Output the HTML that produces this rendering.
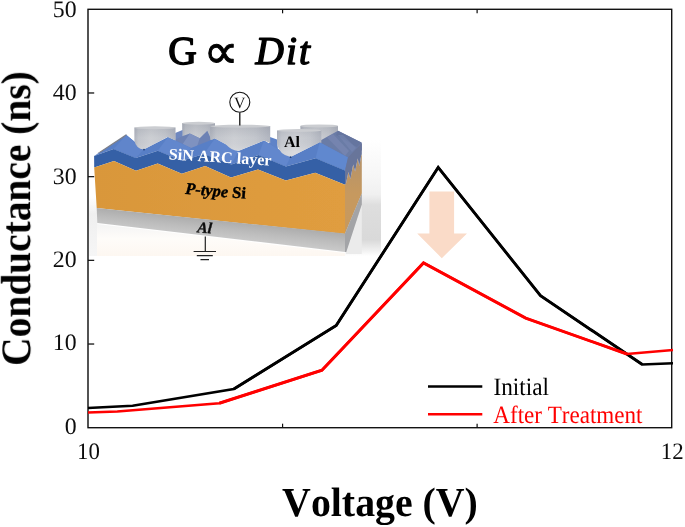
<!DOCTYPE html>
<html lang="en"><head><meta charset="utf-8"><title>Conductance vs Voltage</title>
<style>
html,body{margin:0;padding:0;background:#fff;}
body{width:685px;height:527px;overflow:hidden;}
svg{display:block;}
text{font-kerning:none;text-rendering:geometricPrecision;}
</style></head><body>
<svg width="685" height="527" viewBox="0 0 685 527" role="img" aria-label="Conductance versus voltage chart">
<defs>
<linearGradient id="gcyl" x1="0" x2="1" y1="0" y2="0">
 <stop offset="0" stop-color="#b4b8c2"/><stop offset="0.1" stop-color="#c8cbd1"/><stop offset="0.4" stop-color="#d3d5d9"/><stop offset="0.75" stop-color="#c9ccd2"/><stop offset="1" stop-color="#b6bac4"/>
</linearGradient>
<linearGradient id="gal" gradientUnits="userSpaceOnUse" x1="200" y1="218.7" x2="198.2" y2="236">
 <stop offset="0" stop-color="#adadad"/><stop offset="0.5" stop-color="#bcbcbc"/><stop offset="1" stop-color="#c9c9c9"/>
</linearGradient>
<linearGradient id="gor" x1="0" x2="1" y1="0" y2="0">
 <stop offset="0" stop-color="#d9973a"/><stop offset="1" stop-color="#e09d3f"/>
</linearGradient>
<linearGradient id="gsh" x1="0" x2="0" y1="0" y2="1">
 <stop offset="0" stop-color="#ffffff"/><stop offset="0.1" stop-color="#fcfcfc"/><stop offset="0.32" stop-color="#f6f6f6"/><stop offset="0.47" stop-color="#f0f0f0"/><stop offset="0.56" stop-color="#dedede"/><stop offset="0.86" stop-color="#d9d9d9"/><stop offset="0.95" stop-color="#f0f0f0"/><stop offset="1" stop-color="#ffffff"/>
</linearGradient>
<linearGradient id="gshx" x1="0" x2="1" y1="0" y2="0">
 <stop offset="0" stop-color="#fff" stop-opacity="0"/><stop offset="1" stop-color="#fff" stop-opacity="1"/>
</linearGradient>
<linearGradient id="grefl" x1="0" x2="0" y1="0" y2="1">
 <stop offset="0" stop-color="#f4f4f4"/><stop offset="0.45" stop-color="#fefcf9"/><stop offset="1" stop-color="#fdf7f1"/>
</linearGradient>
<linearGradient id="gstrip" x1="0" x2="0" y1="0" y2="1">
 <stop offset="0" stop-color="#f1f1f1" stop-opacity="0"/><stop offset="0.3" stop-color="#efefef"/><stop offset="1" stop-color="#f6f6f6"/>
</linearGradient>
<linearGradient id="gside" x1="0" x2="0" y1="0" y2="1">
 <stop offset="0" stop-color="#b3926b"/><stop offset="0.5" stop-color="#c6995f"/><stop offset="1" stop-color="#c8995c"/>
</linearGradient>
<linearGradient id="gcylv" gradientUnits="userSpaceOnUse" x1="0" x2="0" y1="124" y2="152">
 <stop offset="0" stop-color="#5a6070" stop-opacity="0.22"/><stop offset="0.5" stop-color="#5a6070" stop-opacity="0.05"/><stop offset="1" stop-color="#ffffff" stop-opacity="0.15"/>
</linearGradient>
<filter id="soft3" x="-5%" y="-5%" width="110%" height="110%"><feGaussianBlur stdDeviation="0.3"/></filter>
<filter id="soft" x="-5%" y="-5%" width="110%" height="110%"><feGaussianBlur stdDeviation="0.45"/></filter>
<filter id="soft2" x="-20%" y="-20%" width="140%" height="140%"><feGaussianBlur stdDeviation="1.5"/></filter>
</defs>
<rect width="685" height="527" fill="#fff"/>
<g id="inset" filter="url(#soft)">
<rect x="345" y="140" width="36" height="116" fill="url(#gsh)"/>
<polygon points="346,252 361.8,204 361.8,254 346,254" fill="#ebebeb"/>
<rect x="89" y="196" width="8.5" height="60" fill="url(#gstrip)"/>
<polygon points="97,224 345,253 345,256 97,256" fill="url(#grefl)"/>
<path d="M182.2,123 V142 H215 V123 Z" fill="url(#gcyl)"/><path d="M182.2,123 V142 H215 V123 Z" fill="url(#gcylv)"/><ellipse cx="198.6" cy="123.3" rx="16.4" ry="1.5" fill="#cbcdd1"/>
<path d="M300.4,126 V146 H338 V126 Z" fill="url(#gcyl)"/><path d="M300.4,126 V146 H338 V126 Z" fill="url(#gcylv)"/><ellipse cx="319.2" cy="125.9" rx="18.8" ry="1.5" fill="#cbcdd1"/>
<polygon points="175.2,133 182.5,130 182.5,142 175.2,142" fill="#6e87bf"/>
<polygon points="175.5,139.5 182.2,136.3 189.8,133.4 199.7,138.2 207.3,130.8 211,139 215,150 175,150" fill="#6d82b4"/>
<polygon points="189.8,133.4 199.7,138.2 196,150 182,145" fill="#7f92c0"/>
<polygon points="270,137 277,139.5 278,150 268,150" fill="#5f83c8"/>
<polygon points="321.3,140 338,130.8 361.8,142.8 361.8,150 349,166 345,170.5 319.7,142.3" fill="#6b7ba6"/>
<polygon points="338,130.8 361.5,142.6 357,147 336,135" fill="#65759f"/>
<polygon points="327,137.5 333,134 349,151 345,156" fill="#7d8eb8" opacity="0.5"/>
<polygon points="338,135 343,135 356,148 352,152" fill="#7d8eb8" opacity="0.4"/>
<polygon points="94.1,156 126.4,135.1 143.7,149.2 168,136.9 191,148 214.9,138.5 238.2,151 264,140.5 290.6,156.8 319.7,142.3 348,157.5 345,170.6 315.6,158.2 285.8,166.4 258.5,155 231.4,164.4 204,154 181.7,160.7 157.8,150.8 135.7,158 113.6,148.9" fill="#597fc6"/>
<polygon points="97,153.4 126.4,134.1 126.6,135.6 101,152.2" fill="#7b7e88"/>
<polygon points="126.4,135.1 143.7,149.2 135.7,158 113.6,148.9" fill="#6085cb"/>
<polygon points="168,136.9 191,148 181.7,160.7 157.8,150.8" fill="#6287cd"/>
<polygon points="214.9,138.5 238.2,151 231.4,164.4 204,154" fill="#6287cd"/>
<polygon points="264,140.5 290.6,156.8 285.8,166.4 258.5,155" fill="#6287cd"/>
<polygon points="319.7,142.3 348,157.5 345,170.6 315.6,158.2" fill="#6088cf"/>
<path d="M134.4,127.5 V140.5 Q136,148.8 143.9,149.5 L167.6,136.9 L175.5,140.5 V127.5 Z" fill="url(#gcyl)"/><path d="M134.4,127.5 V140.5 Q136,148.8 143.9,149.5 L167.6,136.9 L175.5,140.5 V127.5 Z" fill="url(#gcylv)"/><ellipse cx="154.9" cy="127.7" rx="20.5" ry="1.5" fill="#cbcdd1"/>
<path d="M210.2,126 V140 L214.9,138.5 L226,144.5 Q231,150 238.2,151 L264,140.5 L270.2,143 V126 Z" fill="url(#gcyl)"/><path d="M210.2,126 V140 L214.9,138.5 L226,144.5 Q231,150 238.2,151 L264,140.5 L270.2,143 V126 Z" fill="url(#gcylv)"/><ellipse cx="240.2" cy="126.2" rx="30.0" ry="1.5" fill="#cbcdd1"/>
<path d="M277,130.5 V144 Q279.5,155 290.6,156.9 L319.7,142.3 L321.3,143 V130.5 Z" fill="url(#gcyl)"/><path d="M277,130.5 V144 Q279.5,155 290.6,156.9 L319.7,142.3 L321.3,143 V130.5 Z" fill="url(#gcylv)"/><ellipse cx="299.1" cy="130.5" rx="22.2" ry="1.5" fill="#cbcdd1"/>
<circle cx="144" cy="149.6" r="0.9" fill="#1f3f7a"/><circle cx="290.6" cy="157.2" r="0.9" fill="#1f3f7a"/>
<polygon points="94.1,156 113.6,148.9 135.7,158 157.8,150.8 181.7,160.7 204,154 231.4,164.4 258.5,155 285.8,166.4 315.6,158.2 345,170.6 345,184.8 315.2,172.8 285.8,180.6 258,169.5 231,177.4 205.2,166 181.8,173.7 157.7,163.6 136,170.7 114,161 94.2,167.4" fill="#3560a6"/>
<polygon points="94.2,167.4 114,161 136,170.7 157.7,163.6 181.8,173.7 205.2,166 231,177.4 258,169.5 285.8,180.6 315.2,172.8 345,184.8 345,234 96.7,208" fill="url(#gor)"/>
<polygon points="96.7,208 345,233.6 345,252 97.3,223" fill="url(#gal)"/>
<polygon points="345,184.5 346,183.5 348.4,172 350.4,179 353.2,164.5 355.1,171.5 357.7,158.5 359.3,166 361.3,155 361.8,154.5 361.8,193.5 345,233.6" fill="url(#gside)"/>
<polygon points="345,233.6 361.8,193.3 361.8,204.5 346.3,252 345,252" fill="#a3a4a7"/>
<polygon points="345,170.6 348,157.5 361.8,143.3 361.8,154.5 361.3,155 359.3,166 357.7,158.5 355.1,171.5 353.2,164.5 350.4,179 348.4,172 346,183.5 345,184.5" fill="#68749a"/>
<text x="168.6" y="159.3" font-family="'Liberation Serif',serif" font-size="16.1" font-weight="bold" fill="#fff" transform="rotate(3.6 168.6 159.3)">SiN ARC layer</text>
<text x="185.1" y="193.7" font-family="'Liberation Serif',serif" font-size="16.4" font-weight="bold" fill="#000" stroke="#000" stroke-width="0.4" transform="rotate(4.8 185.1 193.7)"><tspan font-style="italic">P-type</tspan> Si</text>
<text x="197" y="232.2" font-family="'Liberation Serif',serif" font-size="15.5" font-weight="bold" font-style="italic" fill="#111" stroke="#111" stroke-width="0.35" transform="rotate(5 197 232.2)">Al</text>
<text x="284" y="146.6" font-family="'Liberation Serif',serif" font-size="16" font-weight="bold" fill="#000">Al</text>
<line x1="239.8" y1="112.5" x2="239.8" y2="125.6" stroke="#111" stroke-width="1.3"/>
<circle cx="239.8" cy="102.3" r="10" fill="#fff" stroke="#111" stroke-width="1.1"/>
<text x="239.8" y="107.9" font-family="'Liberation Serif',serif" font-size="15.8" text-anchor="middle" fill="#111">V</text>
<path d="M205.3,236.5 V251.5 M193.6,251.5 H216 M196.8,255.7 H212.8 M200.5,259.7 H209" stroke="#222" stroke-width="1.2" fill="none"/>
</g>
<polygon points="429.4,191.6 454.1,191.6 454.1,233.4 467,233.4 441.8,258.2 417.2,233.4 429.4,233.4" fill="#fadbc8" filter="url(#soft)"/>
<g filter="url(#soft3)">
<rect x="88.0" y="9.3" width="583.7" height="418.4" fill="none" stroke="#0a0a0a" stroke-width="1.35"/>
<line x1="88.0" x2="94.2" y1="344.02" y2="344.02" stroke="#0a0a0a" stroke-width="1.2"/>
<line x1="88.0" x2="94.2" y1="260.34" y2="260.34" stroke="#0a0a0a" stroke-width="1.2"/>
<line x1="88.0" x2="94.2" y1="176.66" y2="176.66" stroke="#0a0a0a" stroke-width="1.2"/>
<line x1="88.0" x2="94.2" y1="92.98" y2="92.98" stroke="#0a0a0a" stroke-width="1.2"/>
<line x1="282.57" x2="282.57" y1="9.3" y2="13.3" stroke="#0a0a0a" stroke-width="1.2"/>
<line x1="282.57" x2="282.57" y1="427.7" y2="423.7" stroke="#0a0a0a" stroke-width="1.2"/>
<line x1="477.13" x2="477.13" y1="9.3" y2="13.3" stroke="#0a0a0a" stroke-width="1.2"/>
<line x1="477.13" x2="477.13" y1="427.7" y2="423.7" stroke="#0a0a0a" stroke-width="1.2"/>
</g><g filter="url(#soft)">
<polyline points="88.0,408.0 132.6,405.8 233.8,389.0 336.2,325.5 438.2,167.4 540.5,295.7 642.3,364.5 673.0,363.3" fill="none" stroke="#000" stroke-width="2.45" stroke-linejoin="miter"/>
<polyline points="233.8,389.0 336.2,325.5 438.2,167.4 540.5,295.7 642.3,364.5" fill="none" stroke="#000" stroke-width="2.9" stroke-linejoin="miter"/>
<polyline points="88.0,412.6 117.3,411.4 219.3,403.2 321.9,370.3 423.5,262.9 525.7,318.1 626.9,354.0 673.0,350.1" fill="none" stroke="#ff0000" stroke-width="2.5" stroke-linejoin="miter"/>
<polyline points="219.3,403.2 321.9,370.3 423.5,262.9 525.7,318.1 626.9,354.0" fill="none" stroke="#ff0000" stroke-width="3.0" stroke-linejoin="miter"/>
<line x1="428" x2="482.3" y1="386.5" y2="386.5" stroke="#000" stroke-width="2.6"/>
<line x1="428" x2="482.3" y1="414.2" y2="414.2" stroke="#ff0000" stroke-width="2.6"/>
<text transform="translate(493.4 394.9) scale(0.93 1)" font-family="'Liberation Serif',serif" font-size="25" text-anchor="start" fill="#000" >Initial</text>
<text transform="translate(493.3 422.65) scale(0.9225 1)" font-family="'Liberation Serif',serif" font-size="25" text-anchor="start" fill="#ff0000" >After Treatment</text>
<text transform="translate(76.7 433.7) scale(1.01 1)" font-family="'Liberation Serif',serif" font-size="23.6" text-anchor="end" fill="#111" >0</text>
<text transform="translate(76.7 350.3) scale(1.01 1)" font-family="'Liberation Serif',serif" font-size="23.6" text-anchor="end" fill="#111" >10</text>
<text transform="translate(76.7 266.9) scale(1.01 1)" font-family="'Liberation Serif',serif" font-size="23.6" text-anchor="end" fill="#111" >20</text>
<text transform="translate(76.7 183.5) scale(1.01 1)" font-family="'Liberation Serif',serif" font-size="23.6" text-anchor="end" fill="#111" >30</text>
<text transform="translate(76.7 100.0) scale(1.01 1)" font-family="'Liberation Serif',serif" font-size="23.6" text-anchor="end" fill="#111" >40</text>
<text transform="translate(76.7 16.6) scale(1.01 1)" font-family="'Liberation Serif',serif" font-size="23.6" text-anchor="end" fill="#111" >50</text>
<text transform="translate(88.5 459.4) scale(0.97 1)" font-family="'Liberation Serif',serif" font-size="23.6" text-anchor="middle" fill="#111" >10</text>
<text transform="translate(672.3 459.4) scale(0.97 1)" font-family="'Liberation Serif',serif" font-size="23.6" text-anchor="middle" fill="#111" >12</text>
<text transform="translate(380.0 516.3) scale(0.967 1)" font-family="'Liberation Serif',serif" font-size="41.2" text-anchor="middle" fill="#000" font-weight="bold">Voltage (V)</text>
<text transform="translate(30.1 218.5) rotate(-90) scale(0.9385 1)" font-family="'Liberation Serif',serif" font-size="42" font-weight="bold" text-anchor="middle" fill="#000">Conductance (ns)</text>
<text x="168.2" y="64.2" font-family="'Liberation Serif',serif" font-size="39.5" fill="#000" stroke="#000" stroke-width="1.5" stroke-linejoin="round">G</text>
<text x="203.5" y="67.8" font-family="'DejaVu Sans',sans-serif" font-size="49" fill="#000" stroke="#000" stroke-width="1.0" stroke-linejoin="round">∝</text>
<text x="255.6" y="64.1" font-family="'Liberation Serif',serif" font-size="39.3" font-style="italic" letter-spacing="2.0" fill="#000" stroke="#000" stroke-width="1.4" stroke-linejoin="round">Dit</text>
</g>
</svg>
</body></html>
